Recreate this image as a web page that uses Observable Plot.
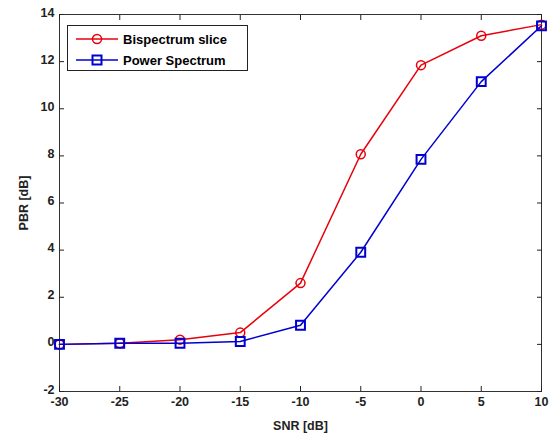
<!DOCTYPE html>
<html><head><meta charset="utf-8">
<script src="https://cdn.jsdelivr.net/npm/d3@7"></script>
<script src="https://cdn.jsdelivr.net/npm/@observablehq/plot@0.6"></script>
<style>
body{margin:0;background:#fff;}
#wrap{position:relative;width:549px;height:434px;font-family:"Liberation Sans",Arial,sans-serif;}
#legend{position:absolute;left:67px;top:25px;width:181px;height:46px;border:1px solid #222;background:#fff;box-sizing:border-box;font-weight:bold;font-size:13px;}
.row{position:absolute;left:0;height:20px;display:flex;align-items:center;}
.row svg{margin-left:8px;margin-right:5px;}
</style></head>
<body><div id="wrap"><div id="legend"></div></div>
<script>
const snr = [-30, -25, -20, -15, -10, -5, 0, 5, 10];
const bispectrum = [0.0, 0.05, 0.2, 0.5, 2.6, 8.07, 11.85, 13.1, 13.57];
const power = [0.0, 0.05, 0.05, 0.12, 0.81, 3.91, 7.85, 11.15, 13.52];
const xTicks = [-30, -25, -20, -15, -10, -5, 0, 5, 10];
const yTicks = [-2, 0, 2, 4, 6, 8, 10, 12, 14];
const seriesNames = ["Bispectrum slice", "Power Spectrum"];
const colors = ["#e8000b", "#0000d0"];

const rows = [];
snr.forEach((x, i) => { rows.push({x, y: bispectrum[i], s: seriesNames[0]}); });
snr.forEach((x, i) => { rows.push({x, y: power[i], s: seriesNames[1]}); });
const red = rows.filter(d => d.s === seriesNames[0]);
const blue = rows.filter(d => d.s === seriesNames[1]);
const fmt = d => String(d);

const chart = Plot.plot({
  width: 549, height: 434,
  marginLeft: 59, marginRight: 8, marginTop: 14, marginBottom: 43,
  style: {fontFamily: "'Liberation Sans', Arial, sans-serif", fontWeight: "bold", fontSize: "12.5px", color: "#222", background: "#fff"},
  x: {domain: [-30, 10]},
  y: {domain: [-2, 14]},
  marks: [
    Plot.frame({stroke: "#333"}),
    Plot.axisX({ticks: xTicks, tickFormat: fmt, anchor: "bottom", tickSize: -5, tickPadding: 11, label: "SNR [dB]", labelAnchor: "center", labelArrow: "none", labelOffset: 38, fontSize: 12.5}),
    Plot.axisX({ticks: xTicks, anchor: "top", tickSize: -5, tickFormat: () => "", label: null}),
    Plot.axisY({ticks: yTicks, tickFormat: () => "", anchor: "left", tickSize: -5, label: null}),
    Plot.axisY({ticks: yTicks, tickFormat: fmt, anchor: "left", tickSize: 0, tickPadding: 5, dy: -2, label: "PBR [dB]", labelAnchor: "center", labelArrow: "none", labelOffset: 40, fontSize: 12.5}),
    Plot.axisY({ticks: yTicks, anchor: "right", tickSize: -5, tickFormat: () => "", label: null}),
    Plot.line(red, {x: "x", y: "y", stroke: colors[0], strokeWidth: 1.5}),
    Plot.dot(red, {x: "x", y: "y", stroke: colors[0], r: 4.5, strokeWidth: 1.5, fill: "none"}),
    Plot.line(blue, {x: "x", y: "y", stroke: colors[1], strokeWidth: 1.5}),
    Plot.dot(blue, {x: "x", y: "y", stroke: colors[1], symbol: "square", r: 5, strokeWidth: 2, fill: "none"})
  ]
});
document.getElementById("wrap").prepend(chart);

const legend = document.getElementById("legend");
seriesNames.forEach((name, i) => {
  const row = document.createElement("div");
  row.className = "row";
  row.style.top = (i === 0 ? 3 : 24) + "px";
  const marker = i === 0
    ? `<circle cx="21" cy="8" r="4.5" fill="none" stroke="${colors[i]}" stroke-width="1.5"/>`
    : `<rect x="16.5" y="3.5" width="9" height="9" fill="none" stroke="${colors[i]}" stroke-width="2"/>`;
  row.innerHTML = `<svg width="42" height="16"><line x1="0" x2="42" y1="8" y2="8" stroke="${colors[i]}" stroke-width="1.5"/>${marker}</svg><span>${name}</span>`;
  legend.appendChild(row);
});
</script></body></html>
